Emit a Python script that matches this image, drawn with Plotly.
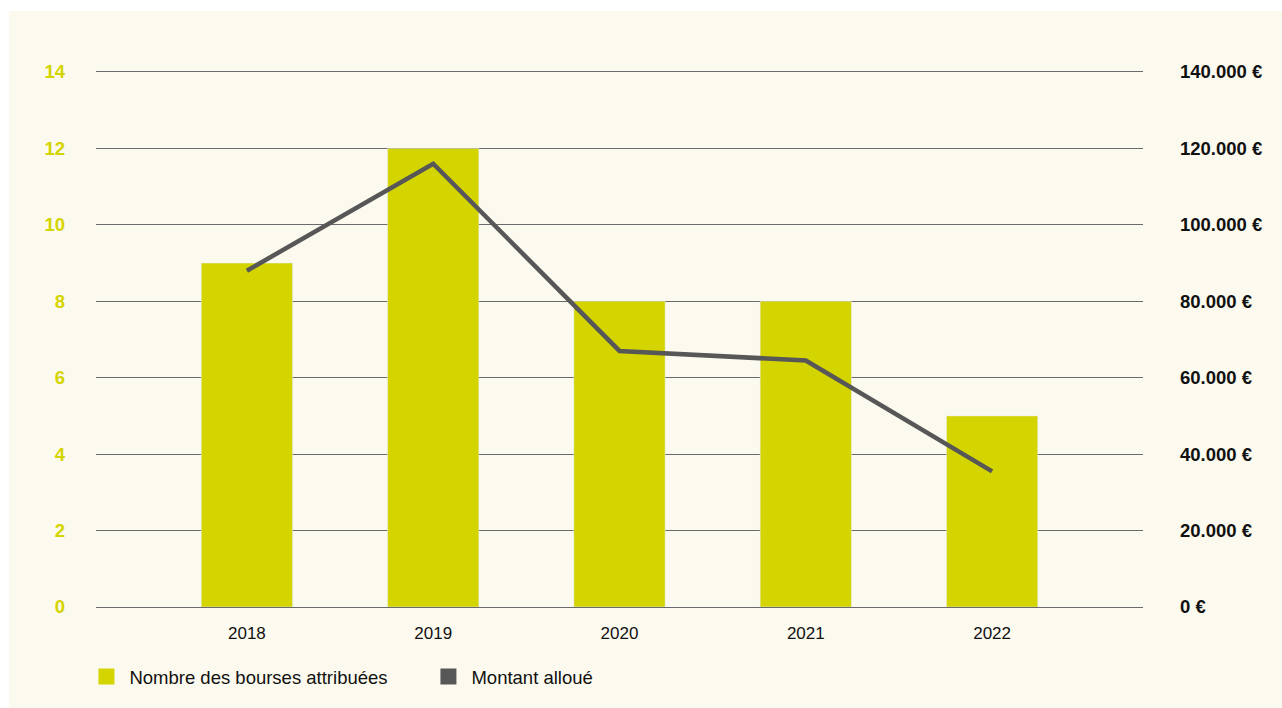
import plotly.graph_objects as go

# Data
years = ["2018", "2019", "2020", "2021", "2022"]
nb_bourses = [9, 12, 8, 8, 5]
montant = [88000, 116000, 67000, 64500, 35500]

left_ticks = [0, 2, 4, 6, 8, 10, 12, 14]
right_ticks = [0, 20000, 40000, 60000, 80000, 100000, 120000, 140000]
right_labels = ["0 €", "20.000 €", "40.000 €", "60.000 €", "80.000 €",
                "100.000 €", "120.000 €", "140.000 €"]

YELLOW = "#d4d400"
GREY = "#575757"
CREAM = "#fcfaee"
RULE = "#6a6a6a"
FONT = "Liberation Sans, Arial, Helvetica, sans-serif"

fig = go.Figure()

fig.add_trace(go.Bar(
    x=list(range(len(years))), y=nb_bourses, marker_color=YELLOW,
    width=0.49, showlegend=False, hoverinfo="x+y",
))
fig.add_trace(go.Scatter(
    x=list(range(len(years))), y=montant, yaxis="y2", mode="lines",
    line=dict(color=GREY, width=4.5), showlegend=False,
))

# Legend entries with square swatches
fig.add_trace(go.Scatter(
    x=[None], y=[None], mode="markers", name="Nombre des bourses attribuées",
    marker=dict(symbol="square", size=17, color=YELLOW),
))
fig.add_trace(go.Scatter(
    x=[None], y=[None], mode="markers", name="Montant alloué",
    marker=dict(symbol="square", size=17, color=GREY),
))

# Cream panel with a thin white border at top and left
fig.add_shape(
    type="rect", xref="paper", yref="paper", layer="below",
    x0=(9 - 96) / 1047, x1=(1290 - 96) / 1047,
    y0=(607 - 715) / 535, y1=(607 - 11) / 535,
    fillcolor=CREAM, line_width=0,
)

fig.update_layout(
    width=1282, height=708,
    margin=dict(l=96, r=139, t=72, b=101),
    paper_bgcolor="white", plot_bgcolor=CREAM,
    font=dict(family=FONT, size=17, color="#111111"),
    xaxis=dict(
        range=[-0.81, 4.81], tickmode="array",
        tickvals=list(range(len(years))), ticktext=years,
        showgrid=False, zeroline=False,
        showline=True, mirror=True, linecolor=RULE, linewidth=1.3,
        ticks="", ticklabelstandoff=10,
        tickfont=dict(size=17, color="#111111"),
    ),
    yaxis=dict(
        range=[0, 14], tickmode="array", tickvals=left_ticks,
        showgrid=True, gridcolor=RULE, gridwidth=1.3,
        zeroline=False, showline=False, ticks="", ticklabelstandoff=30,
        tickfont=dict(size=18.5, color=YELLOW, weight="bold"),
    ),
    yaxis2=dict(
        range=[0, 140000], overlaying="y", side="right",
        tickmode="array", tickvals=right_ticks, ticktext=right_labels,
        showgrid=False, zeroline=False, showline=False,
        ticks="", ticklabelstandoff=36,
        tickfont=dict(size=18.5, color="#111111", weight="bold"),
    ),
    legend=dict(
        orientation="h", x=-0.012, xanchor="left", y=-0.131, yanchor="middle",
        bgcolor="rgba(0,0,0,0)", font=dict(size=18.5, color="#111111"),
        entrywidth=291, entrywidthmode="pixels", itemsizing="trace",
        itemwidth=36,
    ),
    hovermode="x",
)

fig.write_html("out.html")
